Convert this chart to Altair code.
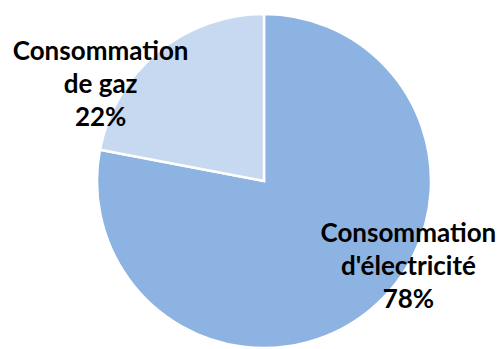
import altair as alt
import pandas as pd

categories = ["Consommation d'électricité", "Consommation de gaz"]
values = [78, 22]
labels = ["Consommation\nd'électricité\n78%", "Consommation\nde gaz\n22%"]
colors = ["#8DB3E2", "#C6D9F1"]

df = pd.DataFrame({"cat": categories, "val": values, "label": labels, "order": [0, 1]})

theta_scale = alt.Scale(domain=[0, 100])

arcs = alt.Chart(df).mark_arc(stroke="white", strokeWidth=2.5).encode(
    theta=alt.Theta("val:Q", stack=True, scale=theta_scale),
    order=alt.Order("order:Q"),
    color=alt.Color("cat:N", scale=alt.Scale(domain=categories, range=colors), legend=None),
)

def lab(cat, dx, dy):
    return alt.Chart(df).transform_stack(
        stack="val", groupby=[], as_=["v0", "v1"], sort=[alt.SortField("order")]
    ).transform_calculate(
        mid="(datum.v0 + datum.v1) / 2"
    ).transform_filter(alt.datum.cat == cat).mark_text(
        radius=170, dx=dx, dy=dy, font="Lato", fontWeight="bold", fontSize=26,
        lineBreak="\n", lineHeight=33, align="center", baseline="middle", color="black"
    ).encode(
        theta=alt.Theta("mid:Q", stack=False, scale=theta_scale),
        text="label:N",
    )

chart = alt.layer(
    arcs,
    lab(categories[0], 36, -78),
    lab(categories[1], -55, 2),
).properties(
    width=480, height=334,
    padding={"left": 24, "top": 14, "right": 0, "bottom": 1},
    autosize="none",
).configure_view(stroke=None)

chart.save("out.html", embed_options={"renderer": "svg", "actions": False})
